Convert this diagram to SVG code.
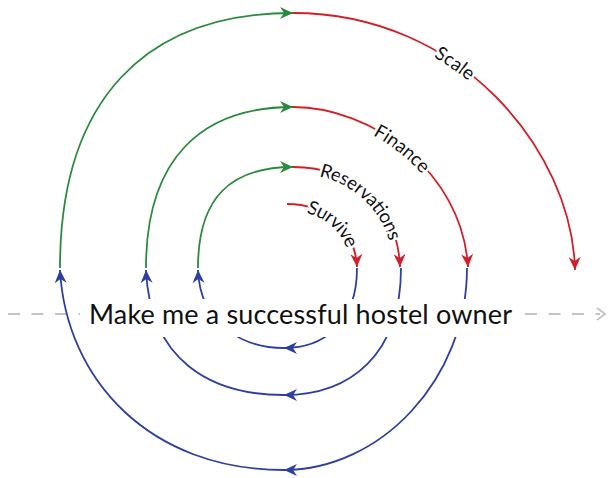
<svg xmlns="http://www.w3.org/2000/svg" width="609" height="478" viewBox="0 0 609 478">
  <style>
    .g { fill: none; stroke: #2b8a3e; stroke-width: 1.8; }
    .r { fill: none; stroke: #d1202a; stroke-width: 1.8; }
    .b { fill: none; stroke: #2f3f9f; stroke-width: 1.8; }
    .lbl { font-family: "Lato", "Liberation Sans", sans-serif; font-size: 19px; fill: #111; stroke: #fff; stroke-width: 5; stroke-linejoin: round; paint-order: stroke; }
    .main { font-family: "Lato", "Liberation Sans", sans-serif; font-size: 27px; fill: #111; }
  </style>
  <defs>
    <marker id="ag" viewBox="-14 -7 16 14" refX="0" refY="0" markerWidth="16" markerHeight="14" markerUnits="userSpaceOnUse" orient="auto">
      <path d="M0,0 L-13,-6 L-9,0 L-13,6 Z" fill="#2b8a3e"/>
    </marker>
    <marker id="ar" viewBox="-14 -7 16 14" refX="0" refY="0" markerWidth="16" markerHeight="14" markerUnits="userSpaceOnUse" orient="auto">
      <path d="M0,0 L-13,-6 L-9,0 L-13,6 Z" fill="#d1202a"/>
    </marker>
    <marker id="ab" viewBox="-14 -7 16 14" refX="0" refY="0" markerWidth="16" markerHeight="14" markerUnits="userSpaceOnUse" orient="auto">
      <path d="M0,0 L-13,-6 L-9,0 L-13,6 Z" fill="#2f3f9f"/>
    </marker>
    <path id="pScale" d="M293,13 C460,13 572,150 575,270"/>
    <path id="pFinance" d="M293,107 C370,107 462,170 468,267"/>
    <path id="pRes" d="M293,167 C355,167 398,210 400,267"/>
    <path id="pSurv" d="M287,204 C325,204 355,228 357,267"/>
  </defs>

  <!-- background axis -->
  <g id="axis">
    <line x1="8" y1="314" x2="600" y2="314" stroke="#c4c4c4" stroke-width="2" stroke-dasharray="12 11.5"/>
    <path d="M597,308 L605,314 L597,320" fill="none" stroke="#c4c4c4" stroke-width="2"/>
  </g>

  <g id="connectors">
    <!-- green arcs -->
    <path class="g" d="M60,268 C60,100 145,13 293,13" marker-end="url(#ag)"/>
    <path class="g" d="M146,268 C146,160 200,107 293,107" marker-end="url(#ag)"/>
    <path class="g" d="M198,268 C198,198 230,167 293,167" marker-end="url(#ag)"/>
    <!-- red arcs -->
    <use href="#pScale" class="r" marker-end="url(#ar)"/>
    <use href="#pFinance" class="r" marker-end="url(#ar)"/>
    <use href="#pRes" class="r" marker-end="url(#ar)"/>
    <use href="#pSurv" class="r" marker-end="url(#ar)"/>
    <!-- blue arcs -->
    <path class="b" d="M467,268 C467,380 380,470 284,470 C150,470 66,380 60,270" marker-mid="url(#ab)" marker-end="url(#ab)"/>
    <path class="b" d="M401,268 C401,355 350,395 284,395 C210,395 150,360 146,270" marker-mid="url(#ab)" marker-end="url(#ab)"/>
    <path class="b" d="M357,268 C357,325 322,348 284,348 C244,348 200,325 198,270" marker-mid="url(#ab)" marker-end="url(#ab)"/>
  </g>

  <g id="label-scale"><text class="lbl" dy="6.5"><textPath href="#pScale" startOffset="41%" text-anchor="middle">Scale</textPath></text></g>
  <g id="label-finance"><text class="lbl" dy="6.5"><textPath href="#pFinance" startOffset="46%" text-anchor="middle">Finance</textPath></text></g>
  <g id="label-reservations"><text class="lbl" dy="6.5"><textPath href="#pRes" startOffset="50%" text-anchor="middle">Reservations</textPath></text></g>
  <g id="label-survive"><text class="lbl" dy="6.5"><textPath href="#pSurv" startOffset="50%" text-anchor="middle">Survive</textPath></text></g>

  <g id="goal">
    <rect x="80" y="299" width="440" height="38" fill="#fff"/>
    <text class="main" x="89" y="324" textLength="423">Make me a successful hostel owner</text>
  </g>
</svg>
